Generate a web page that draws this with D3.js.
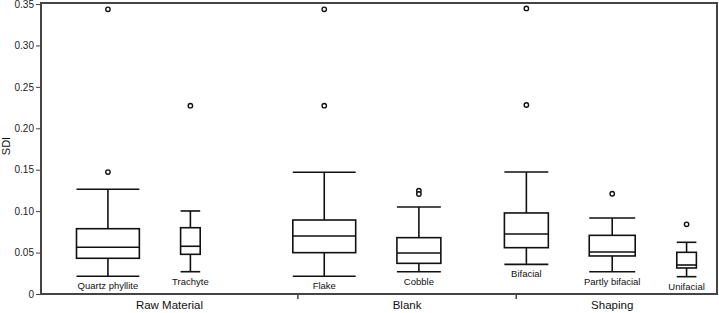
<!DOCTYPE html>
<html>
<head>
<meta charset="utf-8">
<script src="https://cdn.jsdelivr.net/npm/d3@7"></script>
<style>
  body { margin: 0; background: #fff; }
  text { font-family: "Liberation Sans", Arial, sans-serif; }
</style>
</head>
<body>
<div id="chart"></div>
<script>
// groups along the x axis and the boxes inside them
const groups = ["Raw Material", "Blank", "Shaping"];
const categories = ["Quartz phyllite", "Trachyte", "Flake", "Cobble", "Bifacial", "Partly bifacial", "Unifacial"];
const categoryGroup = ["Raw Material", "Raw Material", "Blank", "Blank", "Shaping", "Shaping", "Shaping"];

// five number summaries (SDI)
const whiskerLow = [0.0214, 0.0269, 0.0214, 0.0269, 0.0358, 0.0269, 0.0209];
const q1 = [0.0431, 0.0479, 0.0499, 0.0370, 0.0559, 0.0459, 0.0314];
const median = [0.0564, 0.0576, 0.0700, 0.0495, 0.0724, 0.0507, 0.0350];
const q3 = [0.0788, 0.0800, 0.0893, 0.0680, 0.0978, 0.0708, 0.0503];
const whiskerHigh = [0.1264, 0.1002, 0.1469, 0.1050, 0.1472, 0.0917, 0.0624];
const outliers = [
  [0.1472, 0.3436],
  [0.2273],
  [0.3436, 0.2273],
  [0.1247, 0.1207],
  [0.3447, 0.2281],
  [0.1210],
  [0.0841]
];

const yTicks = [0, 0.05, 0.10, 0.15, 0.20, 0.25, 0.30, 0.35];
const yTickLabels = ["0", "0.05", "0.10", "0.15", "0.20", "0.25", "0.30", "0.35"];

// layout (percent of plot width): box centres, box widths, group edges
const slotCenter = [9.9, 22.1, 41.9, 55.9, 71.8, 84.5, 95.5];
const slotWidth = [9.3, 2.9, 9.3, 6.5, 6.5, 6.8, 2.9];
const groupEdges = [0, 38.0, 70.3, 100];

const width = 719, height = 313;
const margin = { top: 3, right: 2, bottom: 18, left: 41 };

const svg = d3.select("#chart")
  .append("svg")
  .attr("width", width)
  .attr("height", height);

const x = d3.scaleLinear()
  .domain([0, 100])
  .range([margin.left, width - margin.right]);

const y = d3.scaleLinear()
  .domain([0, 0.35])
  .range([294, 4]);

const frameColor = "#444";

// y axis
const yAxis = svg.append("g")
  .attr("transform", `translate(${margin.left},0)`)
  .call(d3.axisLeft(y)
    .tickValues(yTicks)
    .tickFormat((d, i) => yTickLabels[i])
    .tickSize(5)
    .tickPadding(2));
yAxis.select(".domain").remove();
yAxis.selectAll(".tick line").attr("stroke", frameColor).attr("stroke-width", 1);
yAxis.selectAll(".tick text")
  .attr("fill", "#222")
  .style("font-size", "10px")
  .style("font-family", "'Liberation Sans', Arial, sans-serif");

// frame
svg.append("rect")
  .attr("x", x(0))
  .attr("y", y(0.35) - 1)
  .attr("width", x(100) - x(0))
  .attr("height", y(0) - y(0.35) + 1)
  .attr("fill", "none")
  .attr("stroke", frameColor)
  .attr("stroke-width", 2);

// group ticks on the x axis
svg.selectAll(".gtick")
  .data(groupEdges.slice(1, -1))
  .enter().append("line")
  .attr("x1", d => x(d))
  .attr("x2", d => x(d))
  .attr("y1", y(0))
  .attr("y2", y(0) + 5)
  .attr("stroke", frameColor)
  .attr("stroke-width", 1.5);

// group labels
svg.selectAll(".glabel")
  .data(groups)
  .enter().append("text")
  .attr("x", (d, i) => i === 2 ? x(84.5) : x((groupEdges[i] + groupEdges[i + 1]) / 2))
  .attr("y", 309)
  .attr("text-anchor", "middle")
  .style("font-size", "11.5px")
  .attr("fill", "#111")
  .text(d => d);

// y title
svg.append("text")
  .attr("transform", "translate(10,146) rotate(-90)")
  .attr("text-anchor", "middle")
  .style("font-size", "11px")
  .attr("fill", "#111")
  .text("SDI");

// boxes
const boxes = svg.selectAll(".box")
  .data(categories)
  .enter().append("g")
  .attr("class", "box");

const left = i => x(slotCenter[i] - slotWidth[i] / 2);
const right = i => x(slotCenter[i] + slotWidth[i] / 2);
const mid = i => x(slotCenter[i]);

boxes.each(function (d, i) {
  const g = d3.select(this);
  const line = (x1, y1, x2, y2) => g.append("line")
    .attr("x1", x1).attr("y1", y1).attr("x2", x2).attr("y2", y2)
    .attr("stroke", "#111").attr("stroke-width", 1.6);

  // whiskers
  line(mid(i), y(whiskerHigh[i]), mid(i), y(q3[i]));
  line(mid(i), y(q1[i]), mid(i), y(whiskerLow[i]));
  line(left(i), y(whiskerHigh[i]), right(i), y(whiskerHigh[i]));
  line(left(i), y(whiskerLow[i]), right(i), y(whiskerLow[i]));

  // box
  g.append("rect")
    .attr("x", left(i))
    .attr("y", y(q3[i]))
    .attr("width", right(i) - left(i))
    .attr("height", y(q1[i]) - y(q3[i]))
    .attr("fill", "none")
    .attr("stroke", "#111")
    .attr("stroke-width", 1.6);
  line(left(i), y(median[i]), right(i), y(median[i]));

  // outliers
  g.selectAll("circle")
    .data(outliers[i])
    .enter().append("circle")
    .attr("cx", mid(i))
    .attr("cy", v => y(v))
    .attr("r", 2.2)
    .attr("fill", "#fff")
    .attr("stroke", "#111")
    .attr("stroke-width", 1.4);

  // category label
  g.append("text")
    .attr("x", mid(i))
    .attr("y", y(whiskerLow[i]) + 13)
    .attr("text-anchor", "middle")
    .style("font-size", "9.5px")
    .attr("fill", "#111")
    .text(d);
});
</script>
</body>
</html>
